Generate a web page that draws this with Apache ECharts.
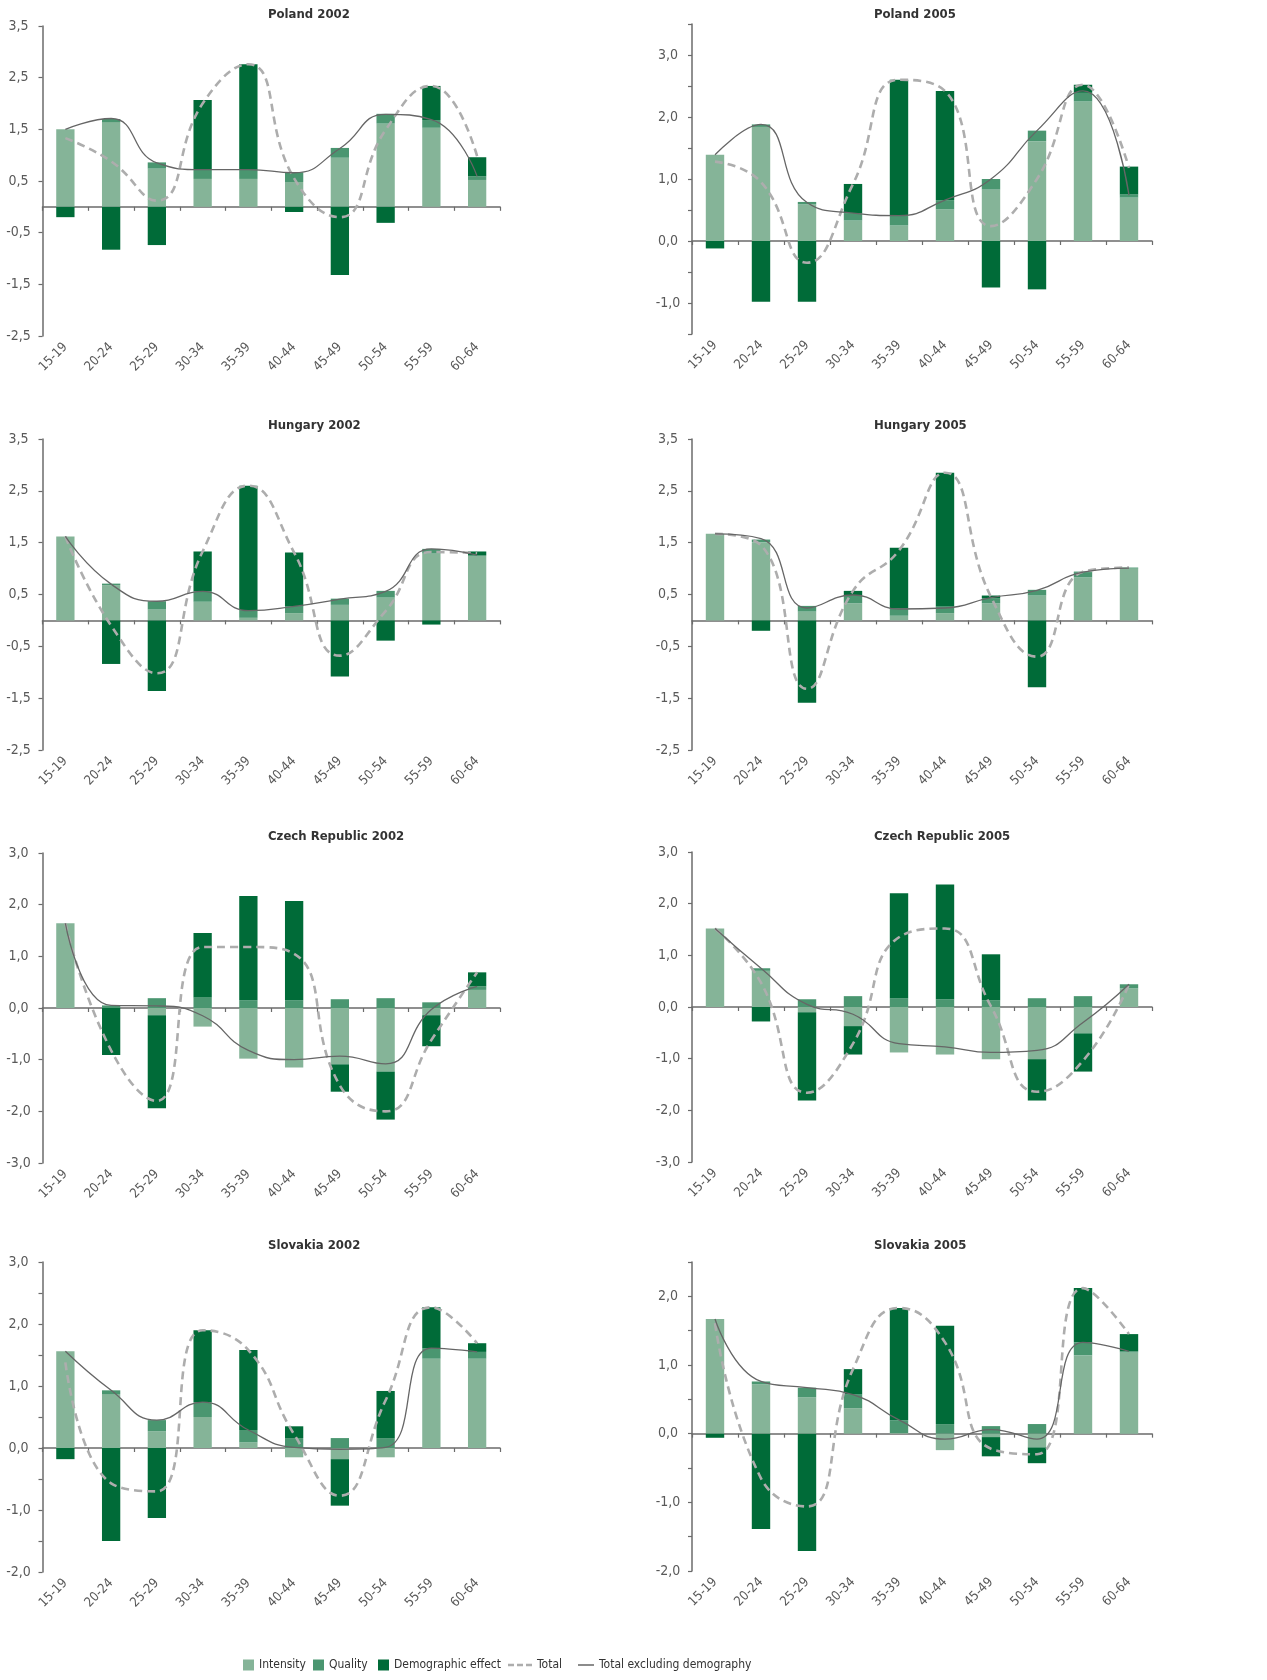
<!DOCTYPE html>
<html><head><meta charset="utf-8">
<script src="https://cdn.jsdelivr.net/npm/echarts@6/dist/echarts.min.js"></script>
<style>html,body{margin:0;padding:0;background:#fff}#c{width:1267px;height:1680px}</style>
</head><body><div id="c"></div>
<script>
// ---------- DATA ----------
const ageGroups = ['15-19','20-24','25-29','30-34','35-39','40-44','45-49','50-54','55-59','60-64'];
const panelTitles = ['Poland 2002','Poland 2005','Hungary 2002','Hungary 2005','Czech Republic 2002','Czech Republic 2005','Slovakia 2002','Slovakia 2005'];
const seriesNames = ['Intensity','Quality','Demographic effect','Total','Total excluding demography'];

const pl02Intensity   = [1.50, 1.64, 0.74, 0.54, 0.54, 0.48, 0.95, 1.61, 1.53, 0.52];
const pl02Quality     = [0.00, 0.06, 0.12, 0.18, 0.18, 0.19, 0.19, 0.19, 0.15, 0.07];
const pl02Demographic = [-0.20, -0.83, -0.74, 1.35, 2.04, -0.10, -1.32, -0.31, 0.66, 0.37];
const pl02Total       = [1.33, 0.88, 0.12, 2.00, 2.76, 0.55, -0.20, 1.49, 2.34, 0.98];
const pl02TotalExDem  = [1.50, 1.71, 0.85, 0.72, 0.72, 0.66, 1.13, 1.79, 1.69, 0.59];

const pl05Intensity   = [1.39, 1.84, 0.59, 0.33, 0.25, 0.51, 0.83, 1.61, 2.25, 0.70];
const pl05Quality     = [0.00, 0.04, 0.04, 0.12, 0.16, 0.15, 0.17, 0.17, 0.14, 0.05];
const pl05Demographic = [-0.12, -0.98, -0.98, 0.47, 2.19, 1.76, -0.75, -0.78, 0.13, 0.45];
const pl05Total       = [1.28, 0.95, -0.35, 0.92, 2.60, 2.42, 0.24, 1.00, 2.52, 1.18];
const pl05TotalExDem  = [1.39, 1.88, 0.62, 0.45, 0.41, 0.66, 1.00, 1.78, 2.42, 0.74];

const hu02Intensity   = [1.62, 0.68, 0.21, 0.36, 0.05, 0.14, 0.30, 0.44, 1.29, 1.25];
const hu02Quality     = [0.00, 0.03, 0.16, 0.20, 0.14, 0.13, 0.12, 0.13, 0.09, 0.00];
const hu02Demographic = [0.00, -0.84, -1.36, 0.77, 2.41, 1.04, -1.08, -0.39, -0.08, 0.08];
const hu02Total       = [1.62, -0.10, -1.02, 1.33, 2.60, 1.31, -0.68, 0.18, 1.32, 1.30];
const hu02TotalExDem  = [1.62, 0.70, 0.37, 0.56, 0.19, 0.27, 0.41, 0.56, 1.38, 1.26];

const hu05Intensity   = [1.67, 1.51, 0.17, 0.33, 0.09, 0.14, 0.33, 0.48, 0.83, 1.00];
const hu05Quality     = [0.00, 0.05, 0.11, 0.16, 0.14, 0.13, 0.10, 0.11, 0.10, 0.02];
const hu05Demographic = [0.00, -0.20, -1.59, 0.08, 1.17, 2.58, 0.05, -1.29, 0.01, 0.00];
const hu05Total       = [1.67, 1.45, -1.32, 0.57, 1.35, 2.85, 0.45, -0.70, 0.94, 1.02];
const hu05TotalExDem  = [1.67, 1.58, 0.24, 0.49, 0.22, 0.24, 0.44, 0.58, 0.93, 1.01];

const cz02Intensity   = [1.64, 0.00, -0.14, -0.36, -0.98, -1.15, -1.09, -1.23, -0.14, 0.35];
const cz02Quality     = [0.00, 0.05, 0.19, 0.21, 0.15, 0.15, 0.17, 0.19, 0.11, 0.07];
const cz02Demographic = [0.00, -0.91, -1.80, 1.24, 2.02, 1.92, -0.53, -0.93, -0.60, 0.27];
const cz02Total       = [1.64, -0.82, -1.80, 1.18, 1.18, 1.05, -1.50, -2.00, -0.62, 0.69];
const cz02TotalExDem  = [1.64, 0.05, 0.04, -0.15, -0.82, -1.00, -0.93, -1.08, -0.03, 0.42];

const cz05Intensity   = [1.52, 0.70, -0.10, -0.37, -0.88, -0.92, -1.01, -1.01, -0.51, 0.36];
const cz05Quality     = [0.00, 0.05, 0.15, 0.21, 0.17, 0.15, 0.13, 0.17, 0.21, 0.08];
const cz05Demographic = [0.00, -0.28, -1.71, -0.55, 2.03, 2.22, 0.89, -0.80, -0.74, 0.00];
const cz05Total       = [1.52, 0.47, -1.66, -0.71, 1.35, 1.52, 0.01, -1.64, -1.04, 0.44];
const cz05TotalExDem  = [1.52, 0.75, 0.05, -0.14, -0.71, -0.77, -0.88, -0.84, -0.30, 0.44];

const sk02Intensity   = [1.56, 0.87, 0.27, 0.50, 0.09, -0.15, -0.18, -0.15, 1.44, 1.44];
const sk02Quality     = [0.00, 0.06, 0.18, 0.24, 0.20, 0.16, 0.16, 0.16, 0.17, 0.11];
const sk02Demographic = [-0.18, -1.50, -1.13, 1.16, 1.29, 0.19, -0.75, 0.76, 0.66, 0.14];
const sk02Total       = [1.38, -0.57, -0.70, 1.90, 1.58, 0.22, -0.77, 0.77, 2.27, 1.69];
const sk02TotalExDem  = [1.56, 0.93, 0.45, 0.74, 0.29, 0.01, -0.02, 0.01, 1.61, 1.55];

const sk05Intensity   = [1.67, 0.72, 0.53, 0.37, 0.01, -0.24, -0.05, -0.20, 1.14, 1.18];
const sk05Quality     = [0.00, 0.04, 0.14, 0.20, 0.18, 0.14, 0.11, 0.14, 0.19, 0.02];
const sk05Demographic = [-0.06, -1.39, -1.71, 0.37, 1.64, 1.43, -0.28, -0.23, 0.79, 0.25];
const sk05Total       = [1.61, -0.65, -1.06, 0.94, 1.83, 1.33, -0.22, -0.30, 2.12, 1.45];
const sk05TotalExDem  = [1.67, 0.76, 0.67, 0.57, 0.20, -0.08, 0.06, -0.08, 1.33, 1.20];

// ---------- AXIS RANGES (per panel) ----------
const yMins      = [-2.5, -1.5, -2.5, -2.5, -3, -3, -2, -2];
const yMaxs      = [3.5, 3.5, 3.5, 3.5, 3, 3, 3, 2.5];
const yIntervals = [1, 0.5, 1, 1, 1, 1, 0.5, 0.5];
const yIntLabelsOnly = [false, true, false, false, false, false, true, true];

// ---------- LAYOUT & STYLE ----------
const panelData = [
  [pl02Intensity, pl02Quality, pl02Demographic, pl02Total, pl02TotalExDem],
  [pl05Intensity, pl05Quality, pl05Demographic, pl05Total, pl05TotalExDem],
  [hu02Intensity, hu02Quality, hu02Demographic, hu02Total, hu02TotalExDem],
  [hu05Intensity, hu05Quality, hu05Demographic, hu05Total, hu05TotalExDem],
  [cz02Intensity, cz02Quality, cz02Demographic, cz02Total, cz02TotalExDem],
  [cz05Intensity, cz05Quality, cz05Demographic, cz05Total, cz05TotalExDem],
  [sk02Intensity, sk02Quality, sk02Demographic, sk02Total, sk02TotalExDem],
  [sk05Intensity, sk05Quality, sk05Demographic, sk05Total, sk05TotalExDem]
];
const gridBoxes = [
  {left: 42.5, top: 26,   width: 457.5, height: 310},
  {left: 692,  top: 24,   width: 460,   height: 310},
  {left: 42.5, top: 439,  width: 457.5, height: 311},
  {left: 692,  top: 439,  width: 460,   height: 311},
  {left: 42.5, top: 853,  width: 457.5, height: 310},
  {left: 692,  top: 852,  width: 460,   height: 310},
  {left: 42.5, top: 1262, width: 457.5, height: 310},
  {left: 692,  top: 1262, width: 460,   height: 309}
];
const titlePos = [
  {left: 268, top: 8}, {left: 874, top: 8},
  {left: 268, top: 419}, {left: 874, top: 419},
  {left: 268, top: 830}, {left: 874, top: 830},
  {left: 268, top: 1239}, {left: 874, top: 1239}
];
const FONT = "'Liberation Sans Narrow', 'DejaVu Sans Condensed', 'Open Sans', sans-serif";
const COLORS = ['#85B498', '#4A9670', '#006B38'];
const AXIS_COLOR = '#6B6B6B';
const LABEL_COLOR = '#595959';
const TOTAL_COLOR = '#ADADAD';
const EXDEM_COLOR = '#666666';

// fit legend font size so "Demographic effect" fits before the "Total" key
function fitFont(text, target, maxSize) {
  const ctx = document.createElement('canvas').getContext('2d');
  ctx.font = '100px ' + FONT;
  const w = ctx.measureText(text).width;
  return Math.min(maxSize, Math.floor(100 * target / w * 2) / 2);
}
const legendSize = fitFont('Demographic effect', 110, 14);

function fmt(v) {
  const s = Math.abs(v).toFixed(1).replace('.', ',');
  return (v < -1e-9 ? '-' : '') + s;
}

const grid = [], xAxis = [], yAxis = [], title = [], series = [];
panelData.forEach((d, i) => {
  grid.push(Object.assign({containLabel: false}, gridBoxes[i]));
  title.push({
    text: panelTitles[i], left: titlePos[i].left, top: titlePos[i].top, padding: 0,
    textStyle: {fontFamily: FONT, fontSize: 13, fontWeight: 'bold', color: '#333'}
  });
  xAxis.push({
    type: 'category', gridIndex: i, data: ageGroups, position: 'bottom',
    axisLine: {show: true, onZero: true, lineStyle: {color: AXIS_COLOR, width: 1.5}},
    axisTick: {show: true, length: 4, lineStyle: {color: AXIS_COLOR, width: 1.2}},
    axisLabel: {show: false}, splitLine: {show: false}
  });
  xAxis.push({
    type: 'category', gridIndex: i, data: ageGroups, position: 'bottom',
    axisLine: {show: false, onZero: false}, axisTick: {show: false},
    axisLabel: {show: true, rotate: 45, margin: 9, fontFamily: FONT, fontSize: 13, color: LABEL_COLOR, interval: 0},
    splitLine: {show: false}
  });
  const intOnly = yIntLabelsOnly[i];
  yAxis.push({
    type: 'value', gridIndex: i, min: yMins[i], max: yMaxs[i], interval: yIntervals[i],
    axisLine: {show: true, lineStyle: {color: AXIS_COLOR, width: 1.5}},
    axisTick: {show: true, length: 4, lineStyle: {color: AXIS_COLOR, width: 1.2}},
    splitLine: {show: false},
    axisLabel: {
      show: true, fontFamily: FONT, fontSize: 14, color: LABEL_COLOR, align: 'center', margin: 24,
      showMinLabel: true, showMaxLabel: true,
      formatter: v => (intOnly && Math.abs(v - Math.round(v)) > 1e-6) ? '' : fmt(v)
    }
  });
  for (let k = 0; k < 3; k++) {
    series.push({
      type: 'bar', name: seriesNames[k], xAxisIndex: 2 * i, yAxisIndex: i, stack: 'p' + i,
      barWidth: '40%', data: d[k], itemStyle: {color: COLORS[k]}, emphasis: {disabled: true}, z: 2
    });
  }
  series.push({
    type: 'line', name: seriesNames[3], xAxisIndex: 2 * i, yAxisIndex: i, data: d[3],
    smooth: 0.5, symbol: 'none', showSymbol: false,
    lineStyle: {color: TOTAL_COLOR, width: 2.6, type: [8, 5]}, itemStyle: {color: TOTAL_COLOR},
    emphasis: {disabled: true}, z: 5
  });
  series.push({
    type: 'line', name: seriesNames[4], xAxisIndex: 2 * i, yAxisIndex: i, data: d[4],
    smooth: 0.5, symbol: 'none', showSymbol: false,
    lineStyle: {color: EXDEM_COLOR, width: 1.3}, itemStyle: {color: EXDEM_COLOR},
    emphasis: {disabled: true}, z: 6
  });
});

const legendText = {fontFamily: FONT, fontSize: legendSize, color: '#333'};
function legendItem(name, left, w, h, icon, color) {
  return {
    data: [{name: name, icon: icon, itemStyle: {color: color, borderWidth: 0}}],
    left: left, top: 1667 - 8, height: 16, padding: 0, itemWidth: w, itemHeight: h,
    symbolKeepAspect: false, textStyle: legendText, selectedMode: false
  };
}
const option = {
  animation: false,
  backgroundColor: '#fff',
  title: title,
  grid: grid,
  xAxis: xAxis,
  yAxis: yAxis,
  legend: [
    legendItem(seriesNames[0], 243, 11, 11, 'rect', COLORS[0]),
    legendItem(seriesNames[1], 313, 11, 11, 'rect', COLORS[1]),
    legendItem(seriesNames[2], 378, 11, 11, 'rect', COLORS[2]),
    legendItem(seriesNames[3], 508, 24, 2.6, 'path://M0,0h6v2h-6z M9,0h6v2h-6z M18,0h6v2h-6z', TOTAL_COLOR),
    legendItem(seriesNames[4], 578, 16, 1.5, 'rect', EXDEM_COLOR)
  ],
  series: series
};
const chart = echarts.init(document.getElementById('c'), null, {renderer: 'canvas'});
chart.setOption(option);
</script>
</body></html>
